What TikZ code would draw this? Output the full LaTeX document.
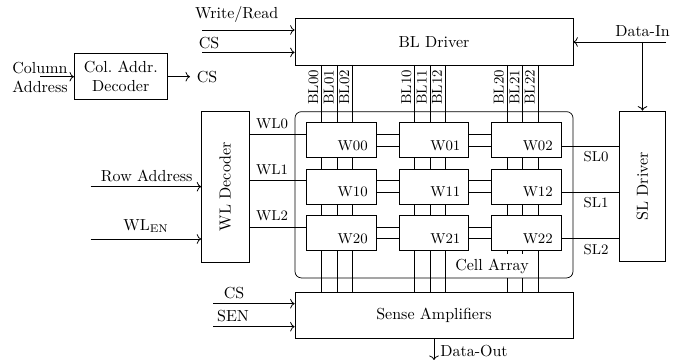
\documentclass[tikz,border=0pt]{standalone}
\usetikzlibrary{arrows.meta}
\tikzset{
  x=0.625pt,y=-0.625pt,
  blockbox/.style={draw,line width=0.45pt,fill=white,inner sep=0pt,anchor=center},
  conn/.style={line width=0.45pt},
  arr/.style={line width=0.5pt,-{Computer Modern Rightarrow[length=2.8pt,width=6pt]}},
  lab/.style={inner sep=0pt},
  smalllab/.style={inner sep=0pt,font=\small},
}
\begin{document}
\begin{tikzpicture}
\useasboundingbox (0,0) rectangle (682,362);
% main blocks
\node[blockbox,minimum width=173.75pt,minimum height=29.06pt] (bl) at (434,41.8) {BL Driver};
\node[blockbox,minimum width=173.75pt,minimum height=28.75pt] (sa) at (434,315.3) {Sense Amplifiers};
\node[blockbox,minimum width=29pt,minimum height=94.2pt] (sl) at (642.5,186.4) {\rotatebox{90}{SL Driver}};
\node[blockbox,minimum width=29.6pt,minimum height=94.2pt] (wl) at (225.3,186.7) {\rotatebox{90}{WL Decoder}};
\node[blockbox,minimum width=58.1pt,minimum height=28.75pt,align=center] (col) at (120.8,76.3) {Col.\ Addr.\\Decoder};
% bit lines
\foreach \c/\xa/\xb/\xc in {0/321.7/337.3/352.7,1/414.7/430/445.3,2/507.3/522.7/538}{
  \foreach \n/\x in {0/\xa,1/\xb,2/\xc}{
    \coordinate (bt\c\n) at (\x,65);
    \coordinate (bb\c\n) at (\x,292.3);
    \draw[conn] (bt\c\n) -- (bb\c\n);
    \node[smalllab,rotate=90,anchor=south west] (bll\c\n) at (\x-3,105) {BL\c\n};
  }
}
% word and source lines
\foreach \r/\ya/\yb in {0/134.7/146,1/180.8/192.2,2/227.2/238.8}{
  \coordinate (wa\r) at (249,\ya);
  \coordinate (wc\r) at (491,\ya);
  \coordinate (wd\r) at (306,\yb);
  \coordinate (wb\r) at (619.3,\yb);
  \draw[conn] (wa\r) -- (wc\r);
  \draw[conn] (wd\r) -- (wb\r);
}
\node[lab,fill=white,inner xsep=3pt,inner ysep=3pt] (cap) at (492,266) {Cell Array};
\node[draw,line width=0.45pt,rounded corners=4pt,minimum width=173.75pt,minimum height=103.9pt,inner sep=0pt] (arr) at (434,194.8) {};
% cells
\foreach \r/\y/\yb in {0/140/146,1/186.6/192.2,2/232.8/238.8}{
  \foreach \c/\x in {0/341.2,1/433.9,2/526.3}{
    \node[blockbox,minimum width=43.6pt,minimum height=21.7pt] (w\r\c) at (\x,\y) {};
    \node[smalllab,anchor=east] (wt\r\c) at (\x+26.8,\yb) {W\r\c};
  }
}
% inputs
\coordinate (w1) at (202,30); \coordinate (w2) at (202,52.4);
\draw[arr] (w1) -- (w1-|bl.west);
\draw[arr] (w2) -- (w2-|bl.west);
\node[lab] (twr) at (236.7,15) {Write/Read};
\node[lab] (tcs) at (209,43) {CS};
\coordinate (din) at (666,42);
\draw[arr] (din) -- (din-|bl.east);
\coordinate (dj) at (642.5,42);
\draw[arr] (dj) -- (sl.north);
\node[lab] (tdi) at (642.5,31) {Data-In};
\coordinate (ca) at (40,76.7);
\draw[arr] (ca) -- (ca-|col.west);
\node[lab,align=center] (tca) at (40,77.5) {Column\\Address};
\coordinate (co) at (190,76.7);
\draw[arr] (co-|col.east) -- (co);
\node[lab] (tco) at (207,77) {CS};
\coordinate (ra) at (90.7,186.7);
\draw[arr] (ra) -- (ra-|wl.west);
\node[lab] (tra) at (146.7,176) {Row Address};
\coordinate (we) at (90.7,239);
\draw[arr] (we) -- (we-|wl.west);
\node[lab] (twe) at (146,226) {WL$_{\mathrm{EN}}$};
\coordinate (s1) at (213.3,303.7);
\draw[arr] (s1) -- (s1-|sa.west);
\node[lab] (ts1) at (234,292.7) {CS};
\coordinate (s2) at (213.3,326.7);
\draw[arr] (s2) -- (s2-|sa.west);
\node[lab] (ts2) at (233,315.7) {SEN};
\coordinate (dout) at (434,360);
\draw[arr] (sa.south-|dout) -- (dout);
\node[lab,anchor=west] (tdo) at (440,351) {Data-Out};
% WL SL labels
\foreach \t/\x/\y in {WL0/272/124,WL1/272/170,WL2/272/216,SL0/596/157,SL1/596/203,SL2/596/250}{
  \node[smalllab] (t\t) at (\x,\y) {\t};
}
\end{tikzpicture}
\end{document}
